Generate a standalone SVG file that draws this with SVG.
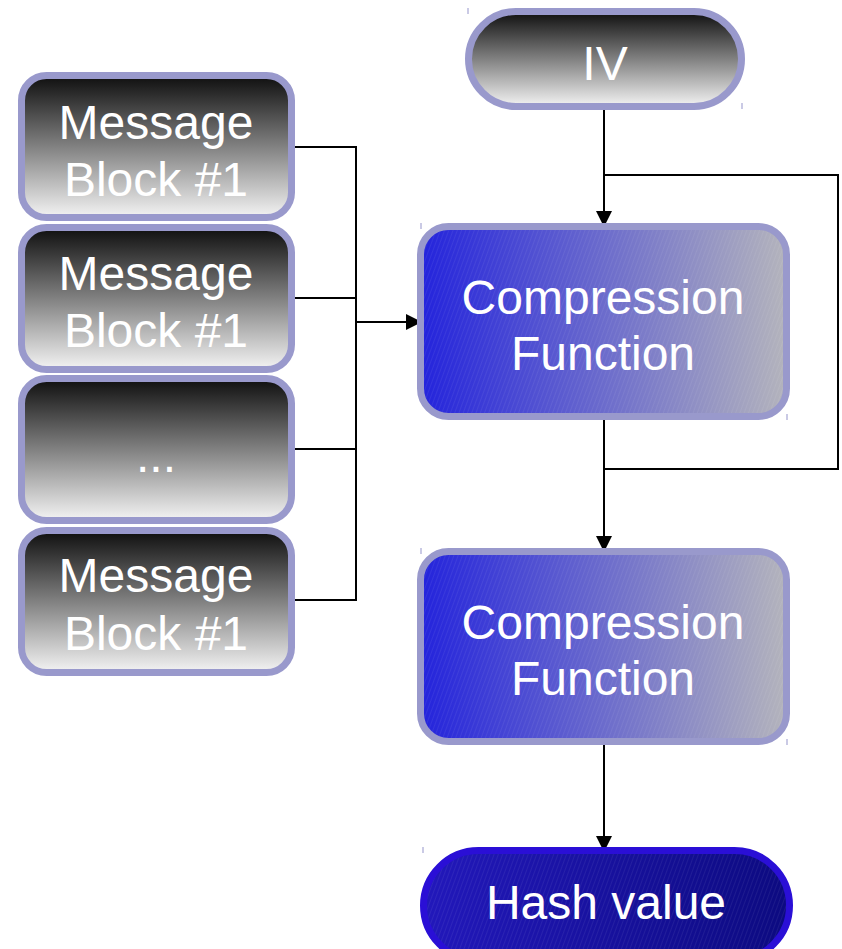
<svg xmlns="http://www.w3.org/2000/svg" width="842" height="949" viewBox="0 0 842 949">
  <style>
    .lbl { font-family: "Liberation Sans", Arial, sans-serif; fill: #ffffff; text-anchor: middle; font-size: 48px; }
    .edge { fill: none; stroke: #000000; stroke-width: 2; }
    .msg { fill: url(#gradGrey); stroke: #9999cc; stroke-width: 7; }
    .cf { fill: url(#gradBlue); stroke: #9999cc; stroke-width: 7; }
    .tick { stroke: #b8b8dd; stroke-width: 1.5; }
  </style>
  <defs>
    <linearGradient id="gradGrey" x1="0" y1="0" x2="0" y2="1">
      <stop offset="0" stop-color="#0e0e0e"/>
      <stop offset="1" stop-color="#f4f4f4"/>
    </linearGradient>
    <linearGradient id="gradBlue" x1="0" y1="0" x2="1" y2="0">
      <stop offset="0" stop-color="#2323dc"/>
      <stop offset="1" stop-color="#b4b4bc"/>
    </linearGradient>
    <linearGradient id="gradHash" x1="0" y1="0" x2="1" y2="0">
      <stop offset="0" stop-color="#2218bb"/>
      <stop offset="1" stop-color="#0c0a80"/>
    </linearGradient>
    <pattern id="hatch" width="4" height="4" patternUnits="userSpaceOnUse" patternTransform="rotate(20)">
      <line x1="0" y1="0" x2="0" y2="4" stroke="#ffffff" stroke-opacity="0.12" stroke-width="1"/>
    </pattern>
    <marker id="arrow" markerWidth="16" markerHeight="16" refX="15" refY="8" orient="auto" markerUnits="userSpaceOnUse">
      <path d="M0,0 L16,8 L0,16 z" fill="#000000"/>
    </marker>
  </defs>

  <g id="connectors">
    <!-- message blocks into the bus -->
    <polyline class="edge" points="292,147 356,147 356,600 292,600"/>
    <line class="edge" x1="292" y1="298" x2="356" y2="298"/>
    <line class="edge" x1="292" y1="449" x2="356" y2="449"/>
    <line class="edge" x1="356" y1="322" x2="421" y2="322" marker-end="url(#arrow)"/>
    <!-- IV into first compression -->
    <line class="edge" x1="604" y1="110" x2="604" y2="226" marker-end="url(#arrow)"/>
    <!-- feedback loop -->
    <polyline class="edge" points="604,469 838,469 838,175 604,175"/>
    <line class="edge" x1="604" y1="420" x2="604" y2="551" marker-end="url(#arrow)"/>
    <line class="edge" x1="604" y1="745" x2="604" y2="851" marker-end="url(#arrow)"/>
  </g>

  <g id="iv">
    <rect x="468.5" y="11.5" width="273" height="95" rx="47.5" fill="url(#gradGrey)" stroke="#9999cc" stroke-width="7"/>
    <text class="lbl" x="605" y="80">IV</text>
    <line class="tick" x1="468" y1="8" x2="468" y2="14"/>
    <line class="tick" x1="742" y1="103" x2="742" y2="109"/>
  </g>

  <g id="msg1">
    <rect class="msg" x="21.5" y="75.5" width="270" height="142" rx="25"/>
    <text class="lbl" x="156" y="139">Message</text>
    <text class="lbl" x="156" y="196">Block #1</text>
  </g>
  <g id="msg2">
    <rect class="msg" x="21.5" y="227.5" width="270" height="142" rx="25"/>
    <text class="lbl" x="156" y="290">Message</text>
    <text class="lbl" x="156" y="347">Block #1</text>
  </g>
  <g id="msg3">
    <rect class="msg" x="21.5" y="378.5" width="270" height="142" rx="25"/>
    <text class="lbl" x="156" y="472">...</text>
  </g>
  <g id="msg4">
    <rect class="msg" x="21.5" y="530.5" width="270" height="142" rx="25"/>
    <text class="lbl" x="156" y="592">Message</text>
    <text class="lbl" x="156" y="650">Block #1</text>
  </g>

  <g id="cf1">
    <rect class="cf" x="420.5" y="226.5" width="366" height="190" rx="28"/>
    <rect x="424" y="230" width="359" height="183" rx="25" fill="url(#hatch)"/>
    <text class="lbl" x="603" y="314">Compression</text>
    <text class="lbl" x="603" y="370">Function</text>
    <line class="tick" x1="421" y1="223" x2="421" y2="229"/>
    <line class="tick" x1="787" y1="414" x2="787" y2="420"/>
  </g>

  <g id="cf2">
    <rect class="cf" x="420.5" y="551.5" width="366" height="190" rx="28"/>
    <rect x="424" y="555" width="359" height="183" rx="25" fill="url(#hatch)"/>
    <text class="lbl" x="603" y="639">Compression</text>
    <text class="lbl" x="603" y="695">Function</text>
    <line class="tick" x1="421" y1="548" x2="421" y2="554"/>
    <line class="tick" x1="787" y1="739" x2="787" y2="745"/>
  </g>

  <g id="hash">
    <rect x="423.5" y="850.5" width="366" height="110" rx="55" fill="url(#gradHash)" stroke="#2a0fd6" stroke-width="7"/>
    <rect x="427" y="854" width="359" height="103" rx="51" fill="url(#hatch)"/>
    <text class="lbl" x="606" y="919">Hash value</text>
    <line class="tick" x1="423" y1="847" x2="423" y2="853"/>
  </g>
</svg>
